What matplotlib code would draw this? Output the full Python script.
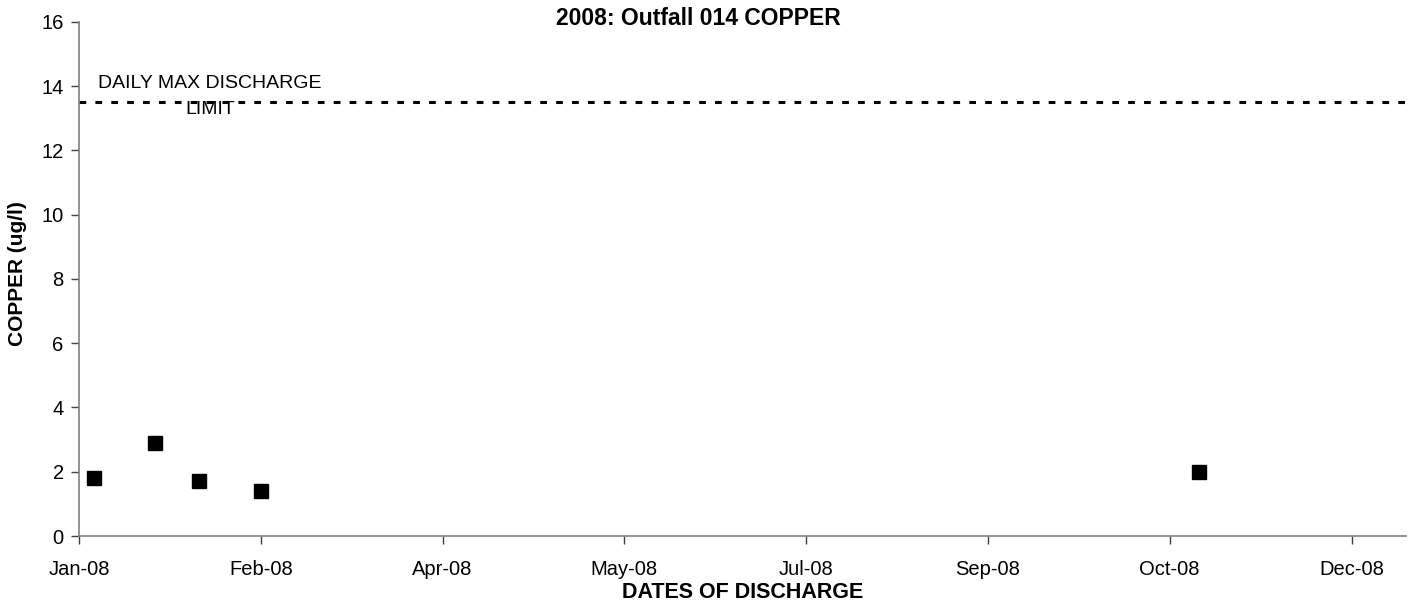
import datetime as dt
import matplotlib
matplotlib.use("Agg")
import matplotlib.pyplot as plt
import matplotlib.dates as mdates

plt.rcParams['font.family'] = ['Liberation Sans', 'DejaVu Sans']

# sample dates and copper values (ug/l)
sample_dates = [dt.date(2008, 1, 5), dt.date(2008, 1, 22), dt.date(2008, 2, 3),
                dt.date(2008, 2, 20), dt.date(2008, 11, 4)]
copper = [1.8, 2.9, 1.7, 1.4, 2.0]

# daily max discharge limit
limit_value = 13.5
limit_label = "DAILY MAX DISCHARGE\nLIMIT"

# axis ticks (Excel date axis, major unit 50 days)
x_start = dt.date(2008, 1, 1)
x_end = dt.date(2008, 12, 31)
tick_dates = [x_start + dt.timedelta(days=50 * i) for i in range(8)]
y_ticks = [0, 2, 4, 6, 8, 10, 12, 14, 16]

fig = plt.figure(figsize=(14.11, 6.02), dpi=100)
ax = fig.add_axes([0.056, 0.1096, 0.9405, 0.854])

ax.plot(sample_dates, copper, linestyle="none", marker="s", markersize=10.5,
        color="black", zorder=3)
ax.plot([x_start, x_end], [limit_value, limit_value], color="black",
        linewidth=2.2, linestyle=(0, (2.2, 3.0)))
ax.text(x_start + dt.timedelta(days=36), 13.68, limit_label, ha="center",
        va="center", fontsize=14, linespacing=1.65)

ax.set_xlim(x_start, x_end)
ax.set_ylim(0, 16)
ax.set_xticks(tick_dates)
ax.xaxis.set_major_formatter(mdates.DateFormatter("%b-%y"))
ax.set_yticks(y_ticks)

for side in ["top", "right"]:
    ax.spines[side].set_visible(False)
for side in ["left", "bottom"]:
    ax.spines[side].set_color("#808080")
    ax.spines[side].set_linewidth(1.2)
ax.tick_params(axis="both", length=6, width=1, color="#404040",
               labelsize=14.5, pad=5)
ax.tick_params(axis="x", pad=11)

ax.set_ylabel("COPPER (ug/l)", fontsize=15, fontweight="bold", labelpad=10)
ax.yaxis.set_label_coords(-0.039, 0.51)
ax.set_xlabel("DATES OF DISCHARGE", fontsize=15.5, fontweight="bold", labelpad=0)
ax.xaxis.set_label_coords(0.5, -0.09)
fig.text(0.495, 0.97, "2008: Outfall 014 COPPER", ha="center", va="center",
         fontsize=16.5, fontweight="bold")

fig.savefig("out.png", dpi=100)
